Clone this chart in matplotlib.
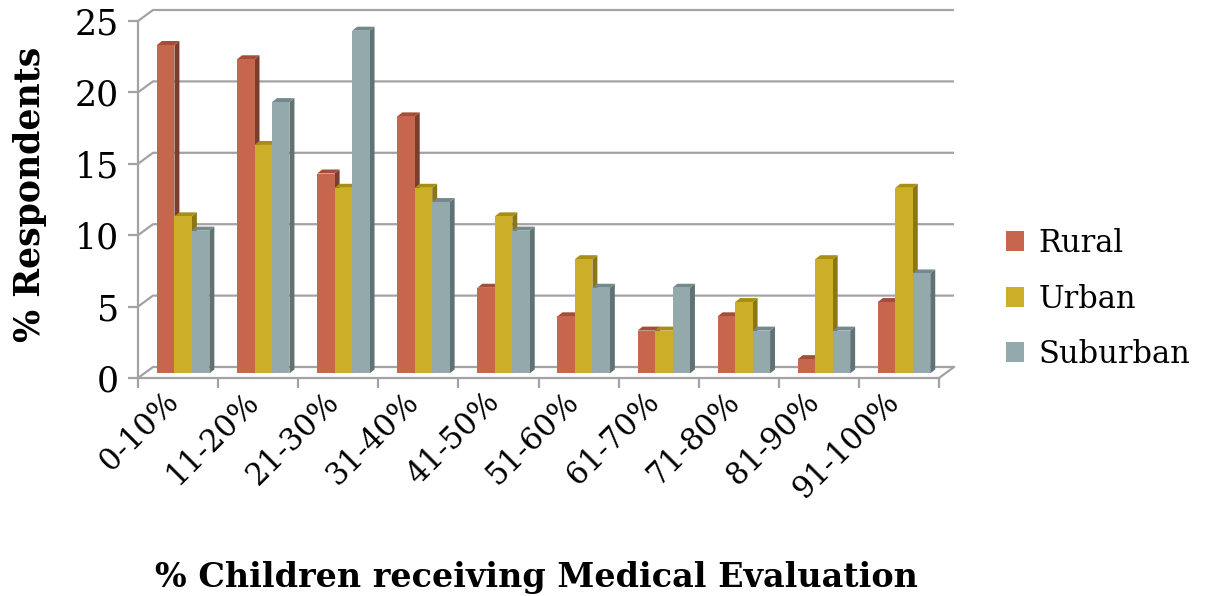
import matplotlib
matplotlib.use("Agg")
import matplotlib.pyplot as plt
import matplotlib.transforms as mtransforms
from matplotlib.patches import Patch
import numpy as np

# Survey results: share of respondents by share of children receiving a medical evaluation
categories = ["0-10%", "11-20%", "21-30%", "31-40%", "41-50%",
              "51-60%", "61-70%", "71-80%", "81-90%", "91-100%"]
rural = [23, 22, 14, 18, 6, 4, 3, 4, 1, 5]
urban = [11, 16, 13, 13, 11, 8, 3, 5, 8, 13]
suburban = [10, 19, 24, 12, 10, 6, 6, 3, 3, 7]
series_names = ["Rural", "Urban", "Suburban"]
y_ticks = [0, 5, 10, 15, 20, 25]

# face colours for each series: front, side, top
front_colors = ["#C6664E", "#CCAE28", "#93A9AC"]
side_colors = ["#7C3D2F", "#8C7614", "#607274"]
top_colors = ["#A24E3B", "#A88E14", "#74898B"]

GRID = "#A3A3A3"
SERIF = ["DejaVu Serif"]

fig = plt.figure(figsize=(12.06, 5.96), dpi=100)
ax = fig.add_axes([138 / 1206, 1 - 378 / 596, 801 / 1206, 357 / 596])
ax.set_xlim(0, len(categories))
ax.set_ylim(0, 25)

# pseudo-3D geometry (data units)
wall_dx, wall_dy = 0.187, 0.77     # back wall offset from front axis
bar_w = 0.218                       # width of one bar face
bar_x0 = 0.237                      # first bar inside a category
bar_base = 0.32                     # bars stand slightly behind the front edge
depth_dx, depth_dy = 0.062, 0.28    # visible bar depth

# back-wall gridlines with connecting diagonals to the front axis
n = len(categories)
for v in y_ticks:
    ax.plot([0, wall_dx, n + wall_dx], [v, v + wall_dy, v + wall_dy],
            color=GRID, lw=1.6, clip_on=False, zorder=1, solid_capstyle="butt")
# right edge of the floor
ax.plot([n, n + wall_dx], [0, wall_dy], color=GRID, lw=1.6, clip_on=False, zorder=1)

series = [rural, urban, suburban]
for i in range(n):
    for k, vals in enumerate(series):
        v = vals[i]
        x0 = i + bar_x0 + k * bar_w
        x1 = x0 + bar_w
        y0 = bar_base
        y1 = bar_base + v
        z = 3 + k
        # side face
        ax.fill([x1, x1 + depth_dx, x1 + depth_dx, x1],
                [y0, y0 + depth_dy, y1 + depth_dy, y1],
                color=side_colors[k], lw=0, zorder=z, clip_on=False)
        # top face
        ax.fill([x0, x1, x1 + depth_dx, x0 + depth_dx],
                [y1, y1, y1 + depth_dy, y1 + depth_dy],
                color=top_colors[k], lw=0, zorder=z, clip_on=False)
        # front face
        ax.bar(x0, v, width=bar_w, bottom=y0, align="edge",
               color=front_colors[k], lw=0, zorder=z, clip_on=False)

# front axes
for s in ["top", "right"]:
    ax.spines[s].set_visible(False)
for s in ["left", "bottom"]:
    ax.spines[s].set_color(GRID)
    ax.spines[s].set_linewidth(1.6)
    ax.spines[s].set_zorder(2)

ax.set_yticks(y_ticks)
ax.set_yticklabels([str(t) for t in y_ticks], fontsize=25, family=SERIF)
ax.tick_params(axis="y", length=7.5, width=1.6, color=GRID, pad=6)

ax.set_xticks(np.arange(n + 1), minor=True)
ax.set_xticks(np.arange(n) + 0.5)
ax.set_xticklabels(categories, fontsize=22, family=SERIF, rotation=45,
                   ha="right", va="center", rotation_mode="anchor")
ax.tick_params(axis="x", which="major", length=0, pad=14)
ax.tick_params(axis="x", which="minor", length=7.5, width=1.6, color=GRID)
shift = mtransforms.ScaledTranslation(-4 / 100, 0, fig.dpi_scale_trans)
for lbl in ax.get_xticklabels():
    lbl.set_transform(lbl.get_transform() + shift)

ax.set_ylabel("% Respondents", fontsize=25, fontweight="bold", family=SERIF, va="center")
ax.yaxis.set_label_coords(-0.135, 0.515)
ax.set_xlabel("% Children receiving Medical Evaluation", fontsize=24,
              fontweight="bold", family=SERIF, va="center")
ax.xaxis.set_label_coords(0.497, -0.56)

handles = [Patch(facecolor=c, edgecolor="none") for c in front_colors]
fig.legend(handles, series_names, loc="center left",
           bbox_to_anchor=(978 / 1206, 1 - 299 / 596), frameon=False,
           prop={"family": SERIF, "size": 22}, handlelength=0.62, handleheight=0.62,
           handletextpad=0.45, labelspacing=0.8)

fig.savefig("out.png", dpi=100)
